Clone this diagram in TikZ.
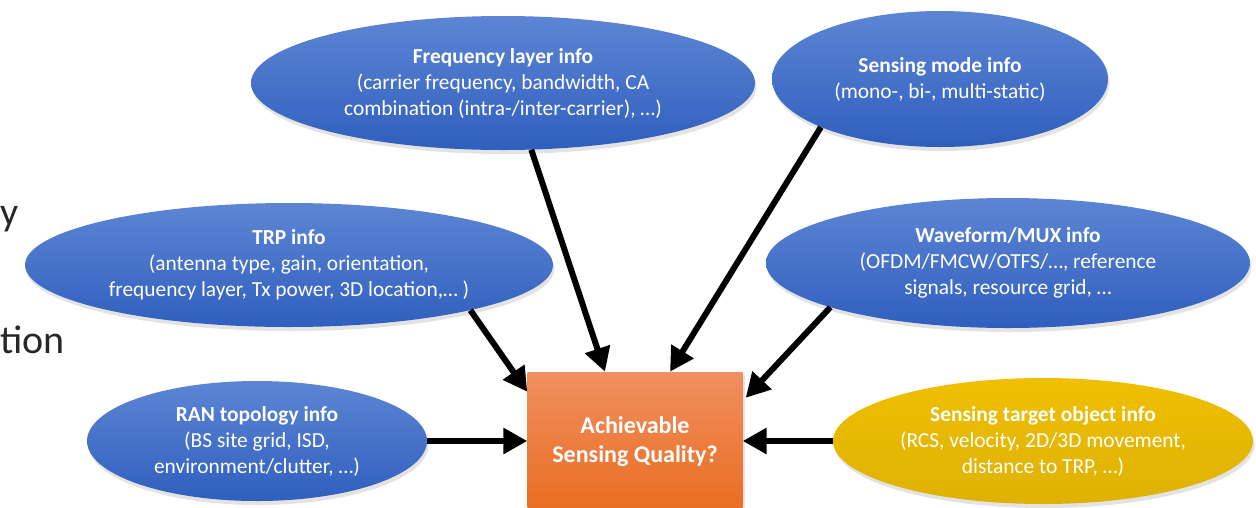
\documentclass[tikz,border=0pt]{standalone}
\usepackage{fontspec}
\setmainfont{Carlito}
\usetikzlibrary{shapes.geometric,arrows.meta,shadows}
\definecolor{bluetop}{RGB}{93,133,212}
\definecolor{bluebot}{RGB}{47,95,190}
\definecolor{orangetop}{RGB}{241,144,96}
\definecolor{orangebot}{RGB}{233,108,32}
\definecolor{goldtop}{RGB}{240,191,0}
\definecolor{goldbot}{RGB}{222,177,4}
\definecolor{slidetext}{RGB}{38,38,38}
\tikzset{
  infobox/.style={ellipse, inner sep=0pt, align=center, text=white,
    font=\fontsize{21.4}{26}\selectfont,
    top color=bluetop, bottom color=bluebot, draw=none,
    drop shadow={opacity=0.22, shadow xshift=1.5pt, shadow yshift=-4pt}},
  goldbox/.style={infobox, top color=goldtop, bottom color=goldbot},
  qualbox/.style={rectangle, inner sep=0pt, align=center, text=white,
    font=\fontsize{24}{29}\selectfont\bfseries,
    top color=orangetop, bottom color=orangebot, draw=none,
    drop shadow={opacity=0.22, shadow xshift=2pt, shadow yshift=-3pt}},
  feed/.style={line width=6pt, draw=black, -{Triangle[length=24pt,width=25pt]}},
  slideword/.style={inner sep=0pt, text=slidetext, font=\fontsize{40}{44}\selectfont}
}
\begin{document}
\begin{tikzpicture}[x=1pt,y=-1pt]
\useasboundingbox (0,0) rectangle (1256,507);
\clip (0,0) rectangle (1256,507);

\node[slideword, anchor=base west] (w1) at (0,225) {y};
\node[slideword, anchor=base west] (w2) at (0,353) {tion};

\node[infobox, minimum width=504pt, minimum height=134pt] (freq) at (503,83)
  {\textbf{Frequency layer info}\\(carrier frequency, bandwidth, CA\\combination (intra-/inter-carrier), …)};
\node[infobox, minimum width=336pt, minimum height=136pt] (mode) at (940,79)
  {\textbf{Sensing mode info}\\(mono-, bi-, multi-static)};
\node[infobox, minimum width=528pt, minimum height=124pt] (trp) at (289,265)
  {\textbf{TRP info}\\(antenna type, gain, orientation,\\frequency layer, Tx power, 3D location,… )};
\node[infobox, minimum width=484pt, minimum height=130pt] (wave) at (1008,263)
  {\textbf{Waveform/MUX info}\\(OFDM/FMCW/OTFS/…, reference\\signals, resource grid, …};
\node[infobox, minimum width=340pt, minimum height=120pt] (ran) at (257,441)
  {\textbf{RAN topology info}\\(BS site grid, ISD,\\environment/clutter, …)};
\node[goldbox, minimum width=420pt, minimum height=126pt] (tgt) at (1043,441)
  {\textbf{Sensing target object info}\\(RCS, velocity, 2D/3D movement,\\distance to TRP, …)};

\node[qualbox, minimum width=215pt, minimum height=140pt] (box) at (635,442)
  {Achievable\\Sensing Quality?};

\draw[feed] (freq.-67.2) -- ([xshift=-30pt]box.north);
\draw[feed] (mode.202.6) -- ([xshift=35pt]box.north);
\draw[feed] (trp.-14.7) -- ([yshift=-20pt]box.north west);
\draw[feed] (wave.194.8) -- ([yshift=-26pt,xshift=3pt]box.north east);
\draw[feed] (ran.east) -- (ran.east -| box.west);
\draw[feed] (tgt.west) -- (tgt.west -| box.east);
\end{tikzpicture}
\end{document}
